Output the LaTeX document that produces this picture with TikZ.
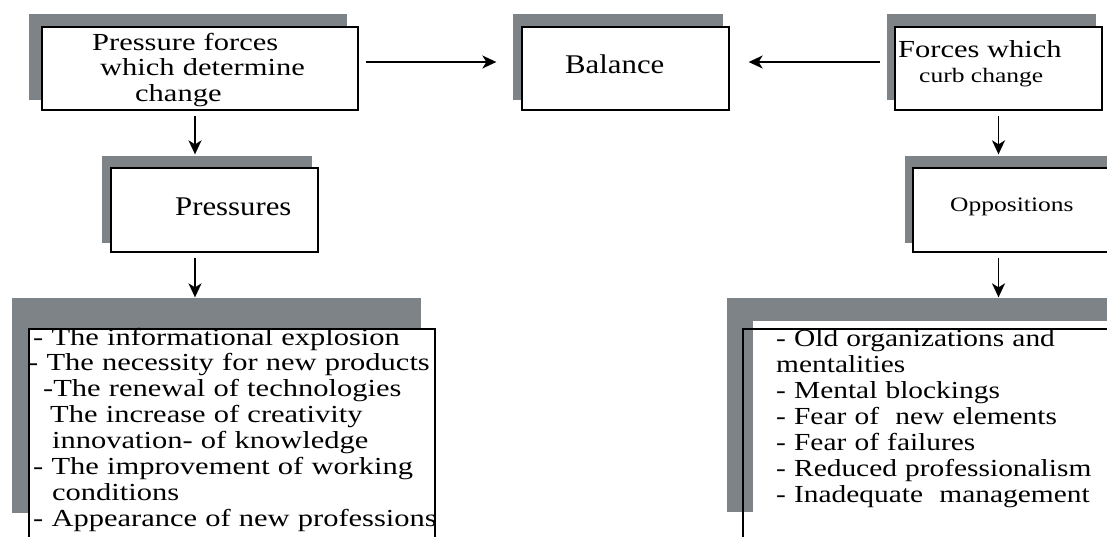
\documentclass[tikz,border=0pt]{standalone}
\usepackage{fontspec}
\setmainfont{Liberation Serif}
\newfontfamily\fa[FakeStretch=1.245]{Liberation Serif}
\newfontfamily\fc[FakeStretch=1.2]{Liberation Serif}
\newfontfamily\fb[FakeStretch=1.14]{Liberation Serif}
\usetikzlibrary{arrows.meta,calc}
\definecolor{shadowgray}{RGB}{125,131,134}
\tikzset{
  box/.style={draw=black, line width=1.3pt, fill=white, rectangle, inner sep=0pt},
  openbox/.style={draw=black, line width=1.3pt, rectangle, inner sep=0pt},
  shade/.style={fill=shadowgray},
  arr/.style={line width=1.8pt, -{Stealth[length=14pt,width=13pt,inset=4pt]}},
  txt/.style={inner sep=0pt, anchor=base west},
  bigtxt/.style={txt, font=\fa\fontsize{24.5}{25.5}\selectfont},
  onetxt/.style={txt, font=\fb\fontsize{27}{28}\selectfont},
  smalltxt/.style={txt, font=\fa\fontsize{20.5}{22}\selectfont},
  listtxt/.style={inner sep=0pt, anchor=base west, align=left, text width=480pt,
     font=\fa\fontsize{24.5}{25.9}\selectfont},
}
\begin{document}
\begin{tikzpicture}[x=1pt,y=-1pt]
\clip (0,0) rectangle (1107,536);
\fill[white] (0,0) rectangle (1107,536);

% shadows
\fill[shade] (29,14) rectangle (347,100);
\fill[shade] (513,14) rectangle (723,100);
\fill[shade] (887,14) rectangle (1096,100);
\fill[shade] (102,156) rectangle (312,243);
\fill[shade] (905,156) rectangle (1130,243);
\fill[shade] (12,298) rectangle (421,513);
\fill[shade] (727,298) rectangle (1130,512);
\fill[white] (753,321) rectangle (1130,560);

% boxes
\node[box, minimum width=316pt, minimum height=83pt] (b1) at (200,68.5) {};
\node[box, minimum width=207pt, minimum height=83pt] (bal) at (625.5,68.5) {};
\node[box, minimum width=207pt, minimum height=83pt] (frc) at (998.5,68.5) {};
\node[box, minimum width=207pt, minimum height=84pt] (prs) at (214.5,210) {};
\node[box, minimum width=220pt, minimum height=84pt] (opp) at (1023,210) {};
\node[box, minimum width=406pt, minimum height=240pt] (L1) at (232,449) {};
\node[openbox, minimum width=400pt, minimum height=240pt] (R1) at (943,449) {};

% texts
\node[listtxt, font=\fa\fontsize{24.5}{25.5}\selectfont, text width=300pt] (t1) at (92,50)
  {Pressure forces\\\hspace*{8pt}which determine\\\hspace*{43pt}change};
\node[onetxt] (t2) at (565,73) {Balance};
\node[bigtxt] (t3) at (898,57) {Forces which};
\node[smalltxt] (t3b) at (919,82) {curb change};
\node[onetxt] (t4) at (175,215) {Pressures};
\node[smalltxt] (t5) at (950,211) {Oppositions};

\node[listtxt] (t6) at (28,345) {%
\hspace*{5pt}- The informational explosion\\
- The necessity for new products\\
\hspace*{15pt}-The renewal of technologies\\
\hspace*{22pt}The increase of creativity\\
\hspace*{24pt}innovation- of knowledge\\
\hspace*{5pt}- The improvement of working\\
\hspace*{24pt}conditions\\
\hspace*{5pt}- Appearance of new professions};

\node[listtxt, font=\fc\fontsize{24.5}{26}\selectfont] (t7) at (776,346) {%
- Old organizations and\\
mentalities\\
- Mental blockings\\
- Fear of\ \ new elements\\
- Fear of failures\\
- Reduced professionalism\\
- Inadequate\ \ management};

% connectors
\draw[arr] ($(b1.east)+(7,-6.5)$) -- ($(bal.west)+(-25,-6.5)$);
\draw[arr] ($(frc.west)+(-14,-6.5)$) -- ($(bal.east)+(19,-6.5)$);
\draw[arr] ($(b1.south)+(-5,5)$) -- ($(b1.south |- prs.north)+(-5,-13)$);
\draw[arr] ($(prs.south -| b1.south)+(-5,5)$) -- ($(b1.south |- L1.north)+(-5,-31)$);
\draw[arr] ($(frc.south)+(0,5)$) -- ($(frc.south |- opp.north)+(0,-13)$);
\draw[arr] ($(opp.south -| frc.south)+(0,5)$) -- ($(frc.south |- R1.north)+(0,-31)$);
\end{tikzpicture}
\end{document}
